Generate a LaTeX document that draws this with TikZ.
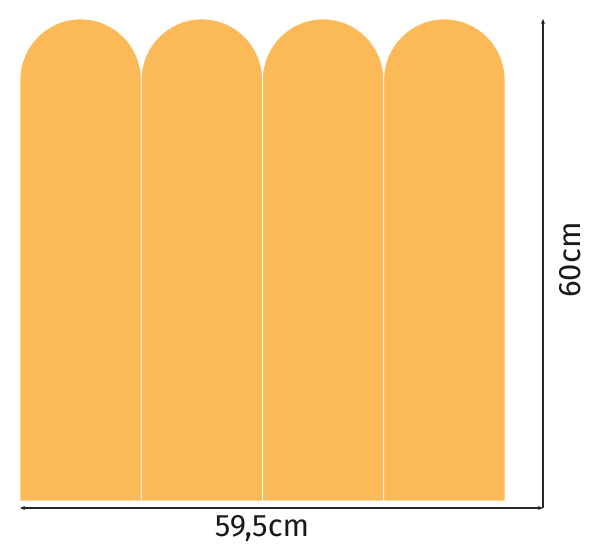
\documentclass[tikz,border=0pt]{standalone}
\usepackage{fontspec}
\setmainfont{Fira Sans}
\usetikzlibrary{arrows.meta}
\definecolor{panel}{HTML}{FBBA57}
\tikzset{
  panelshape/.style={fill=panel, draw=white, line width=0.8pt},
  dimline/.style={draw=black!85, line width=1.1pt, line cap=butt},
  dimlabel/.style={font=\fontsize{31}{32}\selectfont, text=black!90, inner sep=0pt}
}
\begin{document}
\begin{tikzpicture}[x=1pt,y=1pt]
\useasboundingbox (0,0) rectangle (600,545);
\foreach \i in {0,1,2,3}{
  \pgfmathsetmacro{\L}{20+121.25*\i}
  \pgfmathsetmacro{\R}{\L+121.25}
  \path[panelshape] (\L,44) -- (\L,465.4) arc[start angle=180,end angle=0,radius=60.625] -- (\R,44) -- cycle;
}
\coordinate (hl) at (20,37);
\coordinate (corner) at (543,37);
\coordinate (vt) at (543,526);
\draw[dimline, {Stealth[length=5pt,width=4pt]}-{Stealth[length=5pt,width=4pt]}] (hl) -- (corner);
\draw[dimline, -{Stealth[length=5pt,width=4pt]}] (corner) -- (vt);
\node[dimlabel] (w) at (262,16) {59,5cm};
\node[dimlabel, rotate=90] (h) at (570,285) {60cm};
\end{tikzpicture}
\end{document}
